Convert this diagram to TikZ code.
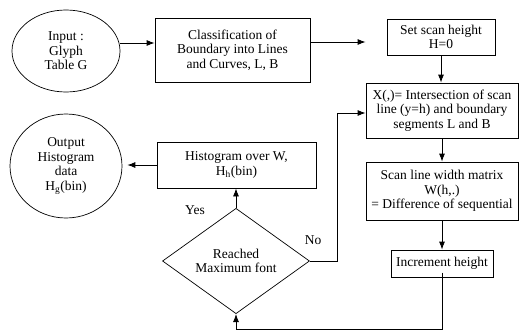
\documentclass[tikz,border=0pt]{standalone}
\usepackage{fontspec}
\setmainfont{Liberation Serif}
\usetikzlibrary{shapes.geometric,arrows.meta}

\begin{document}
\begin{tikzpicture}[x=1pt,y=-1pt,
        every node/.style={font=\fontsize{13.5}{14.5}\selectfont, align=center},
        caixa/.style={draw, line width=0.8pt, inner sep=1pt},
        oval/.style={draw, ellipse, line width=0.7pt, inner sep=0pt},
        losango/.style={draw, diamond, line width=0.7pt, inner sep=0pt},
        seta/.style={line width=0.8pt, -{Latex[length=8pt,width=6pt]}},
        rotulo/.style={inner sep=0pt}]
    \useasboundingbox (0,0) rectangle (519,332);
    % entrada e classificacao
    \node[oval, minimum width=108, minimum height=82] (entrada) at (66,51) {Input :\\Glyph\\Table G};
    \node[caixa, minimum width=155, minimum height=64] (classif) at (232.5,50) {Classification of\\Boundary into Lines\\and Curves, L, B};
    % coluna da direita
    \node[caixa, minimum width=108, minimum height=36] (altura) at (441,37) {Set scan height\\H=0};
    \node[caixa, minimum width=152, minimum height=55] (intersec) at (442,110.5) {X(,)= Intersection of scan\\line (y=h) and boundary\\segments L and B};
    \node[caixa, minimum width=152, minimum height=58] (largura) at (442,191) {Scan line width matrix\\W(h,.)\\= Difference of sequential};
    \node[caixa, minimum width=102, minimum height=27] (incremento) at (442,263.5) {Increment height};
    % decisao, histograma e saida
    \node[losango, minimum width=147, minimum height=78] (fonte) at (236,261) {Reached\\Maximum font};
    \node[caixa, minimum width=159, minimum height=46] (histo) at (236.5,165) {Histogram over W,\\H\textsubscript{h}(bin)};
    \node[oval, minimum width=112, minimum height=104] (saida) at (66,166) {Output\\Histogram\\data\\H\textsubscript{g}(bin)};
    % rotulos
    \node[rotulo] (sim) at (195,210) {Yes};
    \node[rotulo] (nao) at (313,240) {No};
    \coordinate (laco) at ([yshift=-9pt]incremento.center);
    % setas
    \draw[seta] ([yshift=8pt]entrada.east) -- ([yshift=8pt]entrada.east -| classif.west);
    \draw[seta, shorten >=21pt] ([yshift=8pt]classif.east) -- ([yshift=8pt]classif.east -| altura.west);
    \draw[seta] (altura.south) -- (intersec.north -| altura.south);
    \draw[seta] (intersec.south) -- (largura.north);
    \draw[seta] (largura.south) -- (incremento.north);
    \draw[seta] (laco) -- ++(0,57) -| (fonte.south);
    \draw[seta] (fonte.north) -- (histo.south -| fonte.north);
    \draw[seta] (fonte.east) -- ++(28,0) |- ([yshift=-2.5pt]intersec.west);
    \draw[seta, shorten >=5pt] (histo.west) -- (histo.west -| saida.east);
\end{tikzpicture}
\end{document}
